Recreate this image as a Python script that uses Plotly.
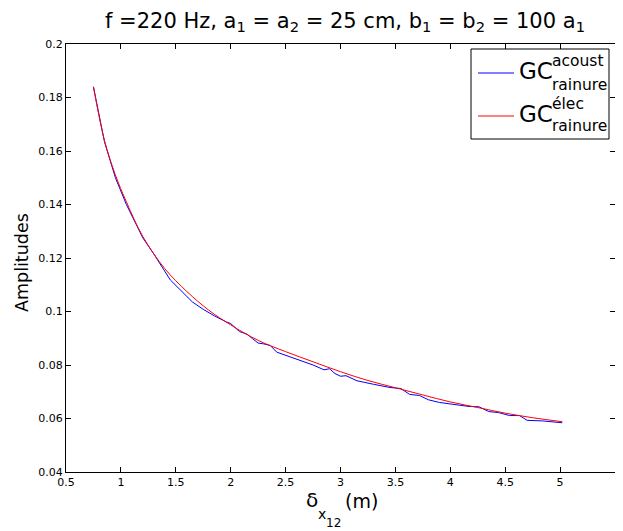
import plotly.graph_objects as go

# ---- data ----
x_acoust = [0.75, 0.85, 0.95, 1.05, 1.2, 1.3, 1.45, 1.55, 1.65, 1.75, 1.85, 1.96, 2.0,
            2.08, 2.15, 2.2, 2.25, 2.3, 2.36, 2.42, 2.5, 2.6, 2.75, 2.85, 2.9, 2.95,
            3.0, 3.05, 3.1, 3.15, 3.3, 3.45, 3.55, 3.63, 3.72, 3.8, 3.9, 4.0, 4.17,
            4.26, 4.35, 4.44, 4.54, 4.63, 4.7, 4.84, 5.02]
y_acoust = [0.1840, 0.1635, 0.1500, 0.1400, 0.1275, 0.1215, 0.1118, 0.1075, 0.1036, 0.1008,
            0.0984, 0.0961, 0.0955, 0.0925, 0.0915, 0.0898, 0.0882, 0.0879, 0.0873, 0.0848,
            0.0836, 0.0820, 0.0800, 0.0782, 0.0786, 0.0768, 0.0758, 0.0760, 0.0750, 0.0741,
            0.0728, 0.0716, 0.0712, 0.0690, 0.0686, 0.0670, 0.0660, 0.0655, 0.0645, 0.0644,
            0.0626, 0.0622, 0.0611, 0.0611, 0.0593, 0.0591, 0.0584]

x_elec = [0.75, 0.85, 0.95, 1.05, 1.2, 1.4, 1.6, 1.8, 2.0, 2.25, 2.5, 2.75, 3.0, 3.25,
          3.5, 3.75, 4.0, 4.25, 4.5, 4.75, 5.02]
y_elec = [0.1840, 0.1640, 0.1510, 0.1410, 0.1280, 0.1160, 0.1075, 0.1005, 0.0950, 0.0892,
          0.0850, 0.0812, 0.0775, 0.0742, 0.0715, 0.0688, 0.0662, 0.0641, 0.0620, 0.0603,
          0.0588]

x_ticks = [0.5, 1, 1.5, 2, 2.5, 3, 3.5, 4, 4.5, 5, 5.5]
x_ticklabels = ["0.5", "1", "1.5", "2", "2.5", "3", "3.5", "4", "4.5", "5", "5.5"]
y_ticks = [0.04, 0.06, 0.08, 0.1, 0.12, 0.14, 0.16, 0.18, 0.2]
y_ticklabels = ["0.04", "0.06", "0.08", "0.1", "0.12", "0.14", "0.16", "0.18", "0.2"]

# ---- layout geometry (window pixels; page body has an 8px margin) ----
OFF = 8
W, H = 623 - OFF, 531 - OFF
L, R, T, B = 66, 615, 44, 472
FONT = "DejaVu Sans"


def px(xp):
    return (xp - L) / (R - L)


def py(yp):
    return (B - yp) / (B - T)


fig = go.Figure()
fig.add_trace(go.Scatter(x=x_acoust, y=y_acoust, mode="lines",
                         line=dict(color="#0000ff", width=1), name="acoust"))
fig.add_trace(go.Scatter(x=x_elec, y=y_elec, mode="lines", line_shape="spline",
                         line=dict(color="#ff0000", width=1), name="elec"))

axis_common = dict(showline=True, linecolor="black", linewidth=1, mirror="ticks",
                   ticks="inside", ticklen=5, tickcolor="black", showgrid=False,
                   zeroline=False, tickfont=dict(family=FONT, size=11, color="black"))

fig.update_xaxes(range=[0.5, 5.5], tickvals=x_ticks, ticktext=x_ticklabels, **axis_common)
fig.update_yaxes(range=[0.04, 0.2], tickvals=y_ticks, ticktext=y_ticklabels, **axis_common)


def ann(text, x, y, size, xanchor="center", angle=0):
    return dict(text=text, x=px(x), y=py(y), xref="paper", yref="paper", showarrow=False,
                xanchor=xanchor, yanchor="middle", textangle=angle,
                font=dict(family=FONT, size=size, color="black"))


annotations = [
    ann("f =220 Hz, a<sub>1</sub> = a<sub>2</sub> = 25 cm, b<sub>1</sub> = b<sub>2</sub> = 100 a<sub>1</sub>",
        345, 22, 21),
    ann("Amplitudes", 22, 263, 17.5, angle=-90),
    ann("δ", 312, 500, 20),
    ann("x", 322, 514, 14),
    ann("12", 333, 523, 12),
    ann("(m)", 361, 501, 19),
]

# custom legend (stacked super/subscripts)
shapes = [
    dict(type="rect", xref="paper", yref="paper", x0=px(471), x1=px(609), y0=py(139), y1=py(49),
         line=dict(color="black", width=1), fillcolor="white", layer="above"),
    dict(type="line", xref="paper", yref="paper", x0=px(478), x1=px(514), y0=py(73), y1=py(73),
         line=dict(color="#0000ff", width=1), layer="above"),
    dict(type="line", xref="paper", yref="paper", x0=px(478), x1=px(514), y0=py(116), y1=py(116),
         line=dict(color="#ff0000", width=1), layer="above"),
]

leg_items = [
    ("GC", 517, 71, 23), ("acoust", 550, 61, 15.5), ("rainure", 550, 85, 15.5),
    ("GC", 517, 114, 23), ("élec", 550, 104, 15.5), ("rainure", 550, 126, 15.5),
]
for txt, xx, yy, sz in leg_items:
    annotations.append(ann(txt, xx, yy, sz, xanchor="left"))

fig.update_layout(
    width=W, height=H,
    margin=dict(l=L - OFF, r=W - (R - OFF), t=T - OFF, b=H - (B - OFF), pad=0),
    paper_bgcolor="white", plot_bgcolor="white",
    showlegend=False,
    annotations=annotations,
    shapes=shapes,
    font=dict(family=FONT, color="black"),
)

fig.write_html("out.html")
